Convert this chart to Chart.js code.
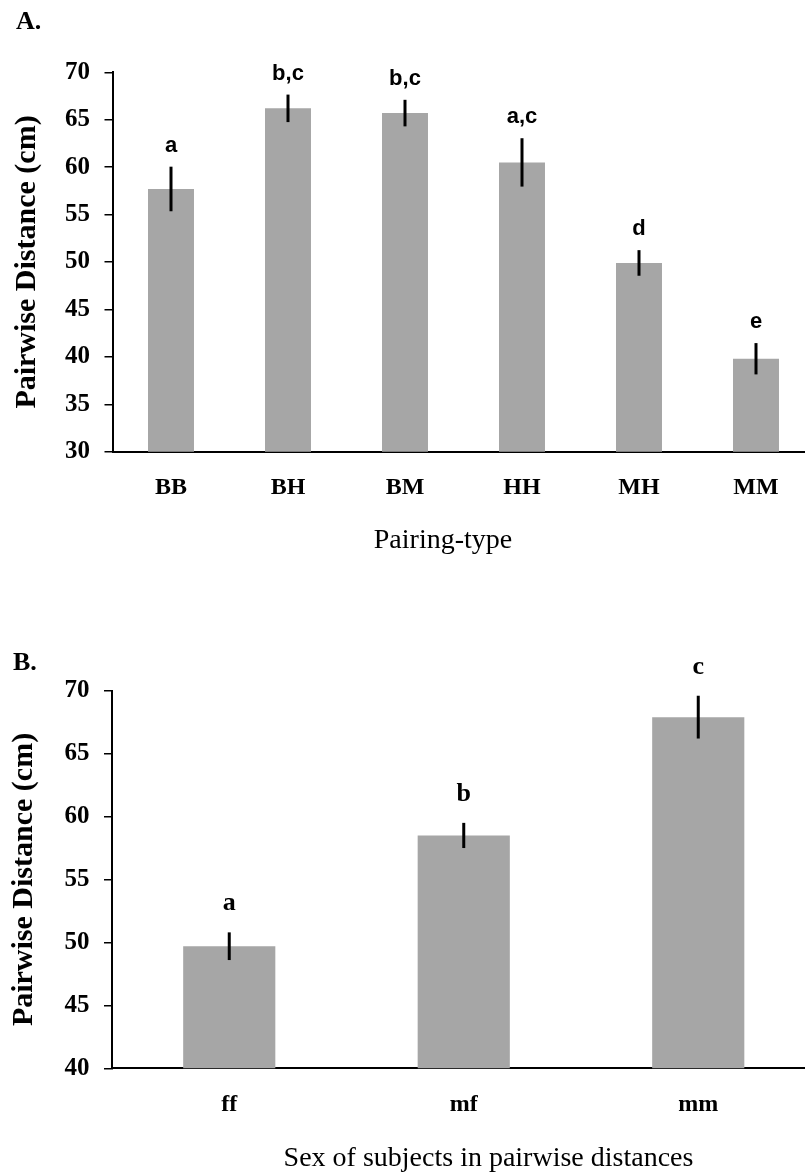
<!DOCTYPE html>
<html>
<head>
<meta charset="utf-8">
<script src="https://cdn.jsdelivr.net/npm/chart.js@4.4.1/dist/chart.umd.min.js"></script>
<style>
  html, body { margin: 0; padding: 0; background: #fff; width: 805px; height: 1176px; overflow: hidden; }
  canvas { position: absolute; left: 0; }
  #panelA { top: 0; }
  #panelB { top: 588px; }
</style>
</head>
<body>
<canvas id="panelA" width="820" height="588"></canvas>
<canvas id="panelB" width="820" height="588"></canvas>
<script>
// Panel A: pairwise distance by pairing type (mean ± SE)
const pairingTypes = ['BB', 'BH', 'BM', 'HH', 'MH', 'MM'];
const pairingMeans = [57.7, 66.2, 65.7, 60.5, 49.9, 39.8];
const pairingErrors = [2.35, 1.45, 1.4, 2.55, 1.35, 1.65];
const pairingGroups = ['a', 'b,c', 'b,c', 'a,c', 'd', 'e'];
const pairingTicks = [30, 35, 40, 45, 50, 55, 60, 65, 70];

// Panel B: pairwise distance by sex of the two subjects
const sexPairs = ['ff', 'mf', 'mm'];
const sexMeans = [49.7, 58.5, 67.9];
const sexErrors = [1.1, 1.0, 1.7];
const sexGroups = ['a', 'b', 'c'];
const sexTicks = [40, 45, 50, 55, 60, 65, 70];

const BAR_GREY = '#a6a6a6';
const SERIF = "'Liberation Serif', 'Times New Roman', serif";
const SANS = "'Liberation Sans', Arial, sans-serif";

// Vertical error bars plus the significance letters above them
const errorBars = {
  id: 'errorBars',
  afterDatasetsDraw(chart, args, opts) {
    const { ctx } = chart;
    const y = chart.scales.y;
    const values = chart.data.datasets[0].data;
    const meta = chart.getDatasetMeta(0);
    ctx.save();
    ctx.strokeStyle = '#000';
    ctx.lineWidth = 3;
    ctx.lineCap = 'butt';
    meta.data.forEach((bar, i) => {
      const top = y.getPixelForValue(values[i] + opts.errors[i]);
      const bottom = y.getPixelForValue(values[i] - opts.errors[i]);
      ctx.beginPath();
      ctx.moveTo(bar.x, top);
      ctx.lineTo(bar.x, bottom);
      ctx.stroke();
      ctx.fillStyle = '#000';
      ctx.font = opts.letterFont;
      ctx.textAlign = 'center';
      ctx.textBaseline = 'alphabetic';
      ctx.fillText(opts.letters[i], bar.x, top - opts.letterGap);
    });
    ctx.restore();
  }
};

// Category axis caption, placed below the tick labels
const axisCaption = {
  id: 'axisCaption',
  afterDraw(chart, args, opts) {
    const { ctx, chartArea } = chart;
    ctx.save();
    ctx.fillStyle = '#000';
    ctx.font = opts.font;
    ctx.textAlign = 'center';
    ctx.textBaseline = 'alphabetic';
    ctx.fillText(opts.text, (chartArea.left + chartArea.right) / 2 + opts.dx, chartArea.bottom + opts.dy);
    ctx.restore();
  }
};

function makePanel(id, cfg) {
  return new Chart(document.getElementById(id), {
    type: 'bar',
    data: {
      labels: cfg.labels,
      datasets: [{
        data: cfg.values,
        backgroundColor: BAR_GREY,
        borderWidth: 0,
        barPercentage: 0.393,
        categoryPercentage: 1.0
      }]
    },
    options: {
      responsive: false,
      animation: false,
      devicePixelRatio: 1,
      layout: { padding: cfg.padding },
      plugins: {
        legend: { display: false },
        tooltip: { enabled: false },
        title: {
          display: true,
          text: cfg.tag,
          align: 'start',
          color: '#000',
          font: { family: SERIF, size: 26, weight: 'bold', lineHeight: 1.2 },
          padding: cfg.tagPadding
        },
        errorBars: {
          errors: cfg.errors,
          letters: cfg.letters,
          letterFont: cfg.letterFont,
          letterGap: cfg.letterGap
        },
        axisCaption: cfg.caption
      },
      scales: {
        x: {
          type: 'category',
          offset: true,
          grid: { display: false, drawTicks: false },
          border: { display: true, color: '#000', width: 2 },
          ticks: {
            color: '#000',
            padding: 22,
            font: { family: SERIF, size: 24, weight: 'bold' }
          },
          afterFit(scale) { scale.height = cfg.xHeight; }
        },
        y: {
          min: cfg.ticks[0],
          max: cfg.ticks[cfg.ticks.length - 1],
          afterBuildTicks(scale) { scale.ticks = cfg.ticks.map(v => ({ value: v })); },
          grid: {
            drawOnChartArea: false,
            drawTicks: true,
            tickLength: 8,
            color: '#000',
            lineWidth: 1.5
          },
          border: { display: true, color: '#000', width: 2 },
          ticks: {
            color: '#000',
            padding: 14.5,
            font: { family: SERIF, size: 25, weight: 'bold' }
          },
          title: {
            display: true,
            text: 'Pairwise Distance (cm)',
            color: '#000',
            font: { family: SERIF, size: 30, weight: 'bold', lineHeight: 1 },
            padding: { top: cfg.yTitleShift, bottom: 0 }
          },
          afterFit(scale) { scale.width = cfg.yWidth; }
        }
      }
    },
    plugins: [errorBars, axisCaption]
  });
}

makePanel('panelA', {
  tag: 'A.',
  labels: pairingTypes,
  values: pairingMeans,
  errors: pairingErrors,
  letters: pairingGroups,
  ticks: pairingTicks,
  letterFont: 'bold 22px ' + SANS,
  letterGap: 15,
  padding: { left: 16, right: 5.5, top: 0, bottom: 0 },
  tagPadding: { top: 7, bottom: 34.1 },
  yWidth: 96.5,
  yTitleShift: -4,
  xHeight: 136.3,
  caption: { text: 'Pairing-type', font: '28px ' + SERIF, dx: -20.5, dy: 96.3 }
});

makePanel('panelB', {
  tag: 'B.',
  labels: sexPairs,
  values: sexMeans,
  errors: sexErrors,
  letters: sexGroups,
  ticks: sexTicks,
  letterFont: 'bold 26px ' + SERIF,
  letterGap: 22,
  padding: { left: 13, right: 4.5, top: 0, bottom: 0 },
  tagPadding: { top: 59.6, bottom: 11.9 },
  yWidth: 99,
  yTitleShift: -4,
  xHeight: 107.7,
  caption: { text: 'Sex of subjects in pairwise distances', font: '28px ' + SERIF, dx: 24.75, dy: 97.7 }
});
</script>
</body>
</html>
